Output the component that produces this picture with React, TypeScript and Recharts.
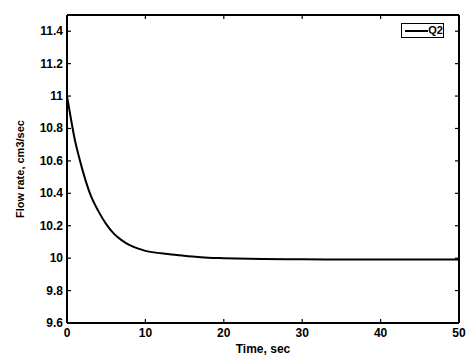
import * as React from 'react';
import { LineChart, Line, XAxis, YAxis } from 'recharts';

// time (sec) and flow rate (cm3/sec)
const timeSec = [0, 0.5, 1, 1.5, 2, 3, 4, 5, 6, 7, 8, 9, 10, 12, 14, 16, 18, 20, 25, 30, 35, 40, 45, 50];
const flowQ2 = [
  11.0, 10.86, 10.73, 10.63, 10.54, 10.39, 10.29, 10.21, 10.15, 10.11, 10.08, 10.06,
  10.045, 10.03, 10.02, 10.01, 10.003, 10.0, 9.995, 9.993, 9.992, 9.992, 9.992, 9.992,
];
const xTicks = [0, 10, 20, 30, 40, 50];
const yTicks = [9.6, 9.8, 10, 10.2, 10.4, 10.6, 10.8, 11, 11.2, 11.4];

const data = timeSec.map((t, i) => ({ t, q2: flowQ2[i] }));

const FONT = '"Liberation Sans", Arial, sans-serif';
const tickText = { fontFamily: FONT, fontSize: 12, fontWeight: 700, fill: '#000' };
const TICK = 4;

function BottomTick({ x, y, payload }: any) {
  return (
    <g>
      <line x1={x} y1={y} x2={x} y2={y - TICK} stroke="#000" strokeWidth={1.2} />
      <text x={x} y={y + 14} textAnchor="middle" {...tickText}>{payload.value}</text>
    </g>
  );
}

function TopTick({ x, y }: any) {
  return <line x1={x} y1={y} x2={x} y2={y + TICK} stroke="#000" strokeWidth={1.2} />;
}

function LeftTick({ x, y, payload }: any) {
  const label = String(Number(payload.value.toFixed(1)));
  return (
    <g>
      <line x1={x} y1={y} x2={x + TICK} y2={y} stroke="#000" strokeWidth={1.2} />
      <text x={x - 4} y={y + 4} textAnchor="end" {...tickText}>{label}</text>
    </g>
  );
}

function RightTick({ x, y }: any) {
  return <line x1={x} y1={y} x2={x - TICK} y2={y} stroke="#000" strokeWidth={1.2} />;
}

function LegendBox() {
  return (
    <div style={{
      position: 'absolute', left: 401, top: 23,
      width: 43, height: 15, border: '1.5px solid #000', background: '#fff',
      display: 'flex', alignItems: 'center', boxSizing: 'border-box',
    }}>
      <svg width={26} height={10} style={{ marginLeft: 2 }}>
        <line x1={1} y1={5} x2={25} y2={5} stroke="#000" strokeWidth={2} />
      </svg>
      <span style={{ fontFamily: FONT, fontSize: 11, fontWeight: 700, lineHeight: 1 }}>Q2</span>
    </div>
  );
}

export default function App() {
  const axisLine = { stroke: '#000', strokeWidth: 2 };
  return (
    <div style={{ position: 'absolute', left: 0, top: 0, width: 472, height: 357, background: '#fff' }}>
      <LineChart width={472} height={357} data={data} margin={{ top: 0, right: 0, bottom: 0, left: 0 }}>
        <XAxis
          xAxisId="b" dataKey="t" type="number" domain={[0, 50]} ticks={xTicks} interval={0}
          height={34} axisLine={axisLine} tickLine={false} tickSize={0} tickMargin={0}
          tick={(p: any) => <BottomTick {...p} />}
          label={{
            content: () => (
              <text x={263} y={353} textAnchor="middle" fontFamily={FONT} fontSize={12} fontWeight={700}>Time, sec</text>
            ),
          }}
        />
        <XAxis
          xAxisId="t" orientation="top" dataKey="t" type="number" domain={[0, 50]} ticks={xTicks} interval={0}
          height={15} axisLine={axisLine} tickLine={false} tickSize={0} tickMargin={0}
          tick={(p: any) => <TopTick {...p} />}
        />
        <YAxis
          yAxisId="l" type="number" domain={[9.6, 11.5]} ticks={yTicks} interval={0}
          width={67} axisLine={axisLine} tickLine={false} tickSize={0} tickMargin={0}
          allowDataOverflow
          tick={(p: any) => <LeftTick {...p} />}
          label={{
            content: () => (
              <text x={24} y={169} transform="rotate(-90 24 169)" textAnchor="middle" fontFamily={FONT} fontSize={11} fontWeight={700}>
                Flow rate, cm3/sec
              </text>
            ),
          }}
        />
        <YAxis
          yAxisId="r" orientation="right" type="number" domain={[9.6, 11.5]} ticks={yTicks} interval={0}
          width={13} axisLine={axisLine} tickLine={false} tickSize={0} tickMargin={0}
          allowDataOverflow
          tick={(p: any) => <RightTick {...p} />}
        />
        <Line
          xAxisId="b" yAxisId="l" type="monotone" dataKey="q2" name="Q2"
          stroke="#000" strokeWidth={2} dot={false} isAnimationActive={false}
        />
      </LineChart>
      <LegendBox />
    </div>
  );
}
